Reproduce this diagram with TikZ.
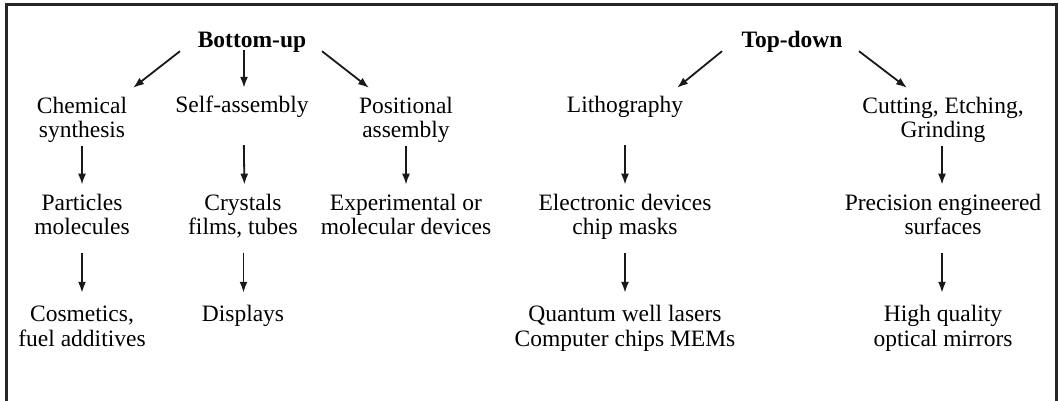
\documentclass[tikz,border=0pt]{standalone}
\usepackage{fontspec}
\setmainfont{Liberation Serif}
\usetikzlibrary{arrows.meta,calc}
\begin{document}
\begin{tikzpicture}[x=1pt,y=-1pt,
  txt/.style={font=\fontsize{23.5}{24.5}\selectfont, align=center, inner sep=0pt, text=black},
  head/.style={txt, font=\fontsize{23.5}{24.5}\selectfont\bfseries},
  arr/.style={line width=1.8pt, draw=black!90, -{Latex[length=11pt,width=8pt]}},
  frame/.style={line width=3pt, draw=black!85}]
\useasboundingbox (0,0) rectangle (1059,401);
\draw[frame] (6,401) -- (6,5) -- (1056,5) -- (1056,401);

% headings
\node[head] (bu) at (252,42.6) {\strut Bottom-up\strut};
\node[head] (td) at (792,42.6) {\strut Top-down\strut};

% level 1
\node[txt] (chem)  at (82,120.4)  {\strut Chemical\\synthesis\strut};
\node[txt] (self)  at (242,108.1) {\strut Self-assembly\strut};
\node[txt] (pos)   at (406,120.4) {\strut Positional\\assembly\strut};
\node[txt] (litho) at (625,108.1) {\strut Lithography\strut};
\node[txt] (cut)   at (943,120.4) {\strut Cutting, Etching,\\Grinding\strut};

% level 2
\node[txt] (part)  at (82,217.4)  {\strut Particles\\molecules\strut};
\node[txt] (cryst) at (243,217.4) {\strut Crystals\\films, tubes\strut};
\node[txt] (exp)   at (406,217.4) {\strut Experimental or\\molecular devices\strut};
\node[txt] (elec)  at (625,217.4) {\strut Electronic devices\\chip masks\strut};
\node[txt] (prec)  at (943,217.4) {\strut Precision engineered\\surfaces\strut};

% level 3
\node[txt] (cosm)  at (82,328.9)  {\strut Cosmetics,\\fuel additives\strut};
\node[txt] (disp)  at (243,316.6) {\strut Displays\strut};
\node[txt] (quant) at (625,328.9) {\strut Quantum well lasers\\Computer chips MEMs\strut};
\node[txt] (high)  at (943,328.9) {\strut High quality\\optical mirrors\strut};

% diagonal arrows
\draw[arr] ($(bu.south)+(-72,-3.85)$) -- ($(chem.north)+(51,-7.85)$);
\draw[arr] ($(bu.south)+(-8,-4.85)$) -- ($(self.north)+(2,-7.85)$);
\draw[arr] ($(bu.south)+(70,-3.85)$) -- ($(pos.north)+(-37,-7.85)$);
\draw[arr] ($(td.south)+(-70,-3.85)$) -- ($(litho.north)+(52,-7.85)$);
\draw[arr] ($(td.south)+(67,-3.85)$) -- ($(cut.north)+(-36,-7.85)$);

% vertical arrows level 1 -> 2
\draw[arr, shorten <=0.5pt, shorten >=8pt] (chem.south) -- (part.north);
\draw[arr, shorten <=24.6pt, shorten >=8pt] ($(self.south)+(1.5,0)$) -- ($(cryst.north)+(1.5,0)$);
\draw[arr, shorten <=0.5pt, shorten >=8pt] (pos.south) -- (exp.north);
\draw[arr, shorten <=24.6pt, shorten >=8pt] (litho.south) -- (elec.north);
\draw[arr, shorten <=0.5pt, shorten >=8pt] ($(cut.south)+(-1,0)$) -- ($(prec.north)+(-1,0)$);

% vertical arrows level 2 -> 3
\draw[arr, shorten <=10.6pt, shorten >=11.4pt] (part.south) -- (cosm.north);
\draw[arr, shorten <=10.6pt, shorten >=11.4pt] ($(cryst.south)+(0.5,0)$) -- ($(disp.north)+(0.5,0)$);
\draw[arr, shorten <=10.6pt, shorten >=11.4pt] (elec.south) -- (quant.north);
\draw[arr, shorten <=10.6pt, shorten >=11.4pt] ($(prec.south)+(-1,0)$) -- ($(high.north)+(-1,0)$);
\end{tikzpicture}
\end{document}
